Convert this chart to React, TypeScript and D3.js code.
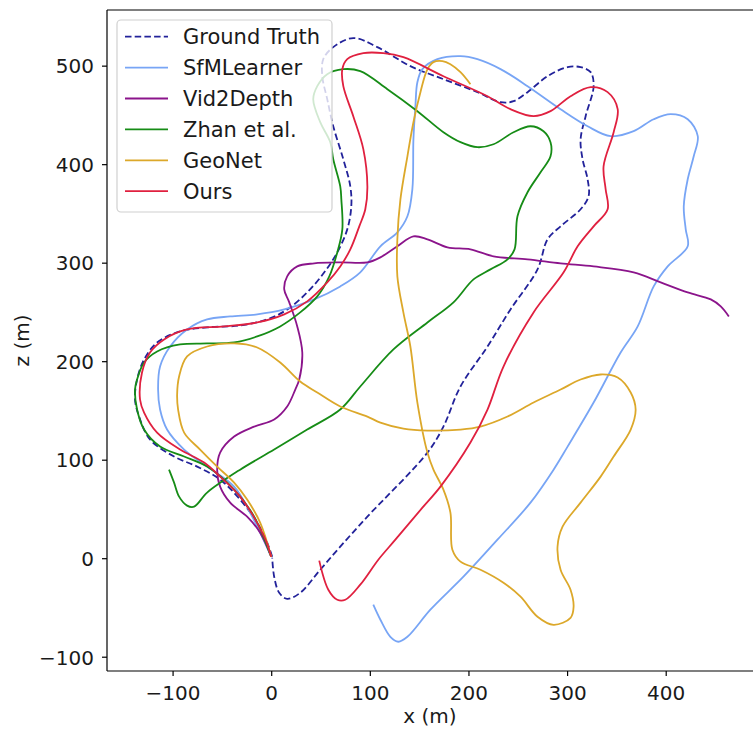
import React from "react";
import * as d3 from "d3";

type P = [number, number];

const groundTruth: P[] = [
  [0.5, 2], [-4.6, 16.3], [-14.7, 36.6], [-32, 60], [-52.3, 80.3], [-75.6, 93.5], [-99, 103.7],
  [-123.4, 121], [-134.5, 144.3], [-138.6, 161.6], [-136.5, 181.9], [-129.4, 202.2], [-116.2, 219.5],
  [-92.9, 230.7], [-65.5, 234.8], [-32, 236.8], [-4.6, 242.9], [15.7, 253], [36, 270.3], [53.3, 290.7],
  [66.5, 311], [76.6, 334.3], [80.7, 357.7], [79.7, 378], [72.6, 405.5], [62.4, 439], [56.3, 466.5],
  [51.3, 489.8], [52.3, 507.1], [62.4, 519.3], [82.7, 528.5], [107.1, 519.3], [140.6, 500],
  [174.1, 486.8], [208.6, 473.6], [232, 463.4], [245.2, 464.4], [259.4, 473.6], [279.7, 489.8],
  [300, 499], [313.2, 499], [323.4, 493.9], [326.4, 479.7], [318.3, 449.2], [313.2, 425.8],
  [315.2, 405.5], [320.3, 385.2], [321.3, 367.9], [313.2, 354.7], [292.9, 337.4], [279.7, 324.2],
  [269.5, 293.7], [242.1, 253], [218.8, 215.4], [191.4, 174.8], [174.1, 134.1], [157.9, 107.7],
  [97, 42.7], [69.5, 12.2], [49.2, -11.2], [28.9, -34.6], [15.7, -40.7], [7.6, -34.6], [2.5, -18.3],
  [0.5, 1],
];

const sfmLearner: P[] = [
  [-0.5, 2], [-21.8, 46.7], [-38.1, 73.2], [-65.5, 93.5], [-88.8, 110.8], [-106.1, 131.1],
  [-113.2, 151.4], [-115.2, 171.7], [-113.2, 195.1], [-103, 215.4], [-85.8, 232.7], [-65.5, 242.9],
  [-42.1, 245.9], [-14.7, 248], [12.7, 253], [43.1, 263.2], [69.5, 276.4], [89.8, 290.7],
  [110.2, 317.1], [127.4, 331.3], [137.6, 347.6], [142.6, 375], [143.7, 425.8], [145.7, 459.3],
  [147.7, 483.7], [152.8, 497], [168, 507.1], [191.4, 510.2], [208.6, 507.1], [232, 497],
  [259.4, 479.7], [292.9, 456.3], [320.3, 439], [343.7, 428.9], [367, 434], [387.3, 446.1],
  [404.6, 451.2], [421.8, 446.1], [432, 428.9], [427.9, 408.5], [421.8, 385.2], [417.8, 357.7],
  [419.8, 334.3], [421.8, 317.1], [401.5, 296.7], [387.3, 276.4], [371.1, 235.8], [353.8, 209.3],
  [326.4, 158.5], [300, 113.8], [285.8, 90.4], [262.4, 56.9], [228.9, 19.3], [194.4, -18.3],
  [160.9, -51.8], [137.6, -79.3], [128.4, -84.3], [120.3, -79.3], [110.2, -62], [103, -46.7],
];

const vid2Depth: P[] = [
  [-0.5, 2], [-11.7, 26.4], [-24.9, 42.7], [-42.1, 56.9], [-52.3, 73.2], [-55.3, 90.4],
  [-52.3, 107.7], [-38.1, 124], [-17.8, 134.1], [2.5, 141.3], [15.7, 154.5], [23.9, 171.7],
  [27.9, 181.9], [31, 209.3], [25.9, 235.8], [17.8, 260.2], [12.7, 273.4], [15.7, 286.6],
  [25.9, 296.7], [43.1, 299.8], [69.5, 300.8], [97, 300.8], [110.2, 305.9], [127.4, 317.1],
  [143.7, 327.2], [157.9, 324.2], [178.2, 316.1], [201.5, 314], [224.9, 306.9], [259.4, 303.9],
  [292.9, 299.8], [326.4, 296.7], [367, 290.7], [394.4, 280.5], [421.8, 270.3], [445.2, 263.2],
  [455.3, 256.1], [463.5, 245.9],
];

const zhanEtAl: P[] = [
  [-0.5, 2], [-17.8, 42.7], [-38.1, 70.1], [-65.5, 93.5], [-88.8, 103.7], [-113.2, 113.8],
  [-129.4, 131.1], [-136.5, 151.4], [-138.6, 171.7], [-136.5, 181.9], [-129.4, 199.2],
  [-116.2, 210.4], [-92.9, 217.5], [-65.5, 218.5], [-38.1, 219.5], [-14.7, 225.6], [8.6, 235.8],
  [28.9, 250], [46.2, 266.3], [58.4, 286.6], [66.5, 311], [71.6, 334.3], [70.6, 364.8], [69.5, 378],
  [62.4, 405.5], [59.4, 422.8], [49.2, 443.1], [42.1, 466.5], [46.2, 479.7], [56.3, 491.9],
  [72.6, 496.9], [89.8, 494.9], [117.3, 476.6], [147.7, 454.3], [174.1, 432.9], [191.4, 422.8],
  [208.6, 417.7], [224.9, 420.7], [245.2, 432.9], [262.4, 439], [275.6, 433.9], [282.7, 422.8],
  [282.7, 408.5], [272.6, 392.3], [259.4, 372], [249.2, 347.6], [246.2, 314], [239.1, 303.9],
  [221.8, 293.7], [204.6, 283.5], [184.3, 260.2], [157.9, 239.8], [123.4, 212.4], [89.8, 174.8],
  [69.5, 151.4], [36, 131.1], [2.5, 110.8], [-32, 90.4], [-65.5, 67.1], [-78.7, 52.8],
  [-85.8, 53.9], [-93.9, 63], [-99, 77.2], [-104.1, 90.4],
];

const geoNet: P[] = [
  [-0.5, 2], [-11.7, 36.6], [-24.9, 60], [-38.1, 77.2], [-55.3, 93.5], [-72.6, 110.8],
  [-88.8, 128], [-94.9, 151.4], [-95.9, 166.7], [-93.9, 185], [-85.8, 205.3], [-65.5, 215.4],
  [-38.1, 218.5], [-14.7, 214.4], [8.6, 199.2], [28.9, 179.9], [46.2, 168.7], [69.5, 154.5],
  [97, 144.3], [110.2, 138.2], [133.5, 132.1], [157.9, 130.1], [191.4, 131.1], [211.7, 134.1],
  [239.1, 144.3], [265.5, 158.5], [292.9, 171.7], [313.2, 181.9], [333.5, 187], [350.8, 183.9],
  [364, 168.7], [369, 151.4], [364, 131.1], [346.7, 103.7], [333.5, 83.3], [313.2, 56.9],
  [294.9, 32.5], [289.8, 12.2], [292.9, -11.2], [303, -31.5], [306.1, -48.8], [303, -60],
  [285.8, -67.1], [269.5, -58.9], [252.3, -38.6], [235, -24.4], [211.7, -11.2], [191.4, -3],
  [183.2, 9.1], [181.2, 46.7], [174.1, 70.1], [164, 90.4], [157.9, 107.7], [147.7, 158.5],
  [140.6, 215.4], [133.5, 250], [127.4, 286.6], [127.4, 324.2], [130.5, 364.8], [137.6, 408.5],
  [143.7, 443.1], [150.8, 473.6], [157.9, 496.9], [164, 504.1], [173.1, 505.1], [181.2, 502],
  [191.4, 493.9], [201.5, 481.7],
];

const ours: P[] = [
  [-0.5, 2], [-7.6, 22.4], [-32, 63], [-52.3, 83.3], [-68.5, 97.6], [-92.9, 110.8], [-116.2, 128],
  [-129.4, 148.4], [-133.5, 161.6], [-131.5, 189], [-123.4, 209.3], [-109.1, 222.6], [-85.8, 232.7],
  [-48.2, 235.8], [-14.7, 239.8], [12.7, 248], [36, 261.2], [56.3, 280.5], [69.5, 296.7],
  [79.7, 314], [88.8, 337.4], [94.9, 354.7], [97, 378], [92.9, 415.7], [82.7, 449.2], [72.6, 479.7],
  [71.6, 496.9], [76.6, 507.1], [92.9, 513.2], [113.2, 513.2], [133.5, 509.1], [174.1, 489.8],
  [218.8, 469.5], [242.1, 456.3], [265.5, 449.2], [282.7, 454.3], [303, 469.5], [323.4, 478.7],
  [340.6, 473.6], [350.8, 456.3], [346.7, 432.9], [336.5, 398.4], [338.6, 375], [340.6, 354.7],
  [326.4, 337.4], [310.2, 317.1], [296, 290.7], [265.5, 250], [235, 195.1], [218.8, 151.4],
  [201.5, 117.9], [171.1, 73.2], [152.8, 51.8], [125.4, 19.3], [108.1, -1], [89.8, -26.4],
  [74.6, -41.7], [66.5, -41.7], [57.4, -31.5], [48.2, -2],
];

const seriesNames = ["Ground Truth", "SfMLearner", "Vid2Depth", "Zhan et al.", "GeoNet", "Ours"];
const seriesColors = ["#22229a", "#78a5f5", "#8b148b", "#168c16", "#dca82a", "#e0203f"];
const seriesData = [groundTruth, sfmLearner, vid2Depth, zhanEtAl, geoNet, ours];

const xTicks = [-100, 0, 100, 200, 300, 400];
const zTicks = [-100, 0, 100, 200, 300, 400, 500];
const xDomain: P = [-167, 488];
const zDomain: P = [-114, 557];

const W = 753;
const H = 729;
const left = 107;
const right = 753;
const top = 10;
const bottom = 671;
const FONT = "DejaVu Sans, sans-serif";

const fmt = (v: number) => (v < 0 ? "\u2212" + Math.abs(v) : String(v));

export default function App() {
  const x = d3.scaleLinear().domain(xDomain).range([left, right]);
  const y = d3.scaleLinear().domain(zDomain).range([bottom, top]);
  const line = d3
    .line<P>()
    .x((d) => x(d[0]))
    .y((d) => y(d[1]))
    .curve(d3.curveCatmullRom.alpha(0.5));

  const legX = 117;
  const legY = 20;
  const legW = 215;
  const legH = 192;
  const rowY = (i: number) => 36.7 + i * 30.9;

  return (
    <svg
      width={W}
      height={H}
      style={{ position: "absolute", left: 0, top: 0, background: "#fff" }}
      fontFamily={FONT}
    >
      <rect x={0} y={0} width={W} height={H} fill="#fff" />
      {seriesData.map((d, i) => (
        <path
          key={seriesNames[i]}
          d={line(d) || ""}
          fill="none"
          stroke={seriesColors[i]}
          strokeWidth={1.8}
          strokeDasharray={i === 0 ? "6.5 3.2" : undefined}
          strokeLinejoin="round"
        />
      ))}
      {/* spines */}
      <line x1={left} x2={left} y1={top} y2={bottom} stroke="#000" strokeWidth={1.2} />
      <line x1={left} x2={right} y1={bottom} y2={bottom} stroke="#000" strokeWidth={1.2} />
      <line x1={left} x2={right} y1={top} y2={top} stroke="#000" strokeWidth={1.2} />
      {/* x ticks */}
      {xTicks.map((t) => (
        <g key={"x" + t}>
          <line x1={x(t)} x2={x(t)} y1={bottom} y2={bottom + 5} stroke="#000" strokeWidth={1.2} />
          <text x={x(t)} y={699.5} textAnchor="middle" fontSize={20} fill="#1a1a1a">
            {fmt(t)}
          </text>
        </g>
      ))}
      {zTicks.map((t) => (
        <g key={"z" + t}>
          <line x1={left - 5} x2={left} y1={y(t)} y2={y(t)} stroke="#000" strokeWidth={1.2} />
          <text x={94} y={y(t) + 7.3} textAnchor="end" fontSize={20} fill="#1a1a1a">
            {fmt(t)}
          </text>
        </g>
      ))}
      <text x={(left + right) / 2} y={723} textAnchor="middle" fontSize={20} fill="#1a1a1a">
        x (m)
      </text>
      <text
        transform={`translate(29, ${(top + bottom) / 2}) rotate(-90)`}
        textAnchor="middle"
        fontSize={20}
        fill="#1a1a1a"
      >
        z (m)
      </text>
      {/* legend */}
      <rect
        x={legX}
        y={legY}
        width={legW}
        height={legH}
        rx={4}
        fill="#fff"
        fillOpacity={0.8}
        stroke="#d0d0d0"
        strokeWidth={1.2}
      />
      {seriesNames.map((n, i) => (
        <g key={"leg" + n}>
          <line
            x1={125}
            x2={168}
            y1={rowY(i)}
            y2={rowY(i)}
            stroke={seriesColors[i]}
            strokeWidth={1.8}
            strokeDasharray={i === 0 ? "6.5 3.2" : undefined}
          />
          <text x={183} y={rowY(i) + 7.6} fontSize={21} fill="#1a1a1a">
            {n}
          </text>
        </g>
      ))}
    </svg>
  );
}
